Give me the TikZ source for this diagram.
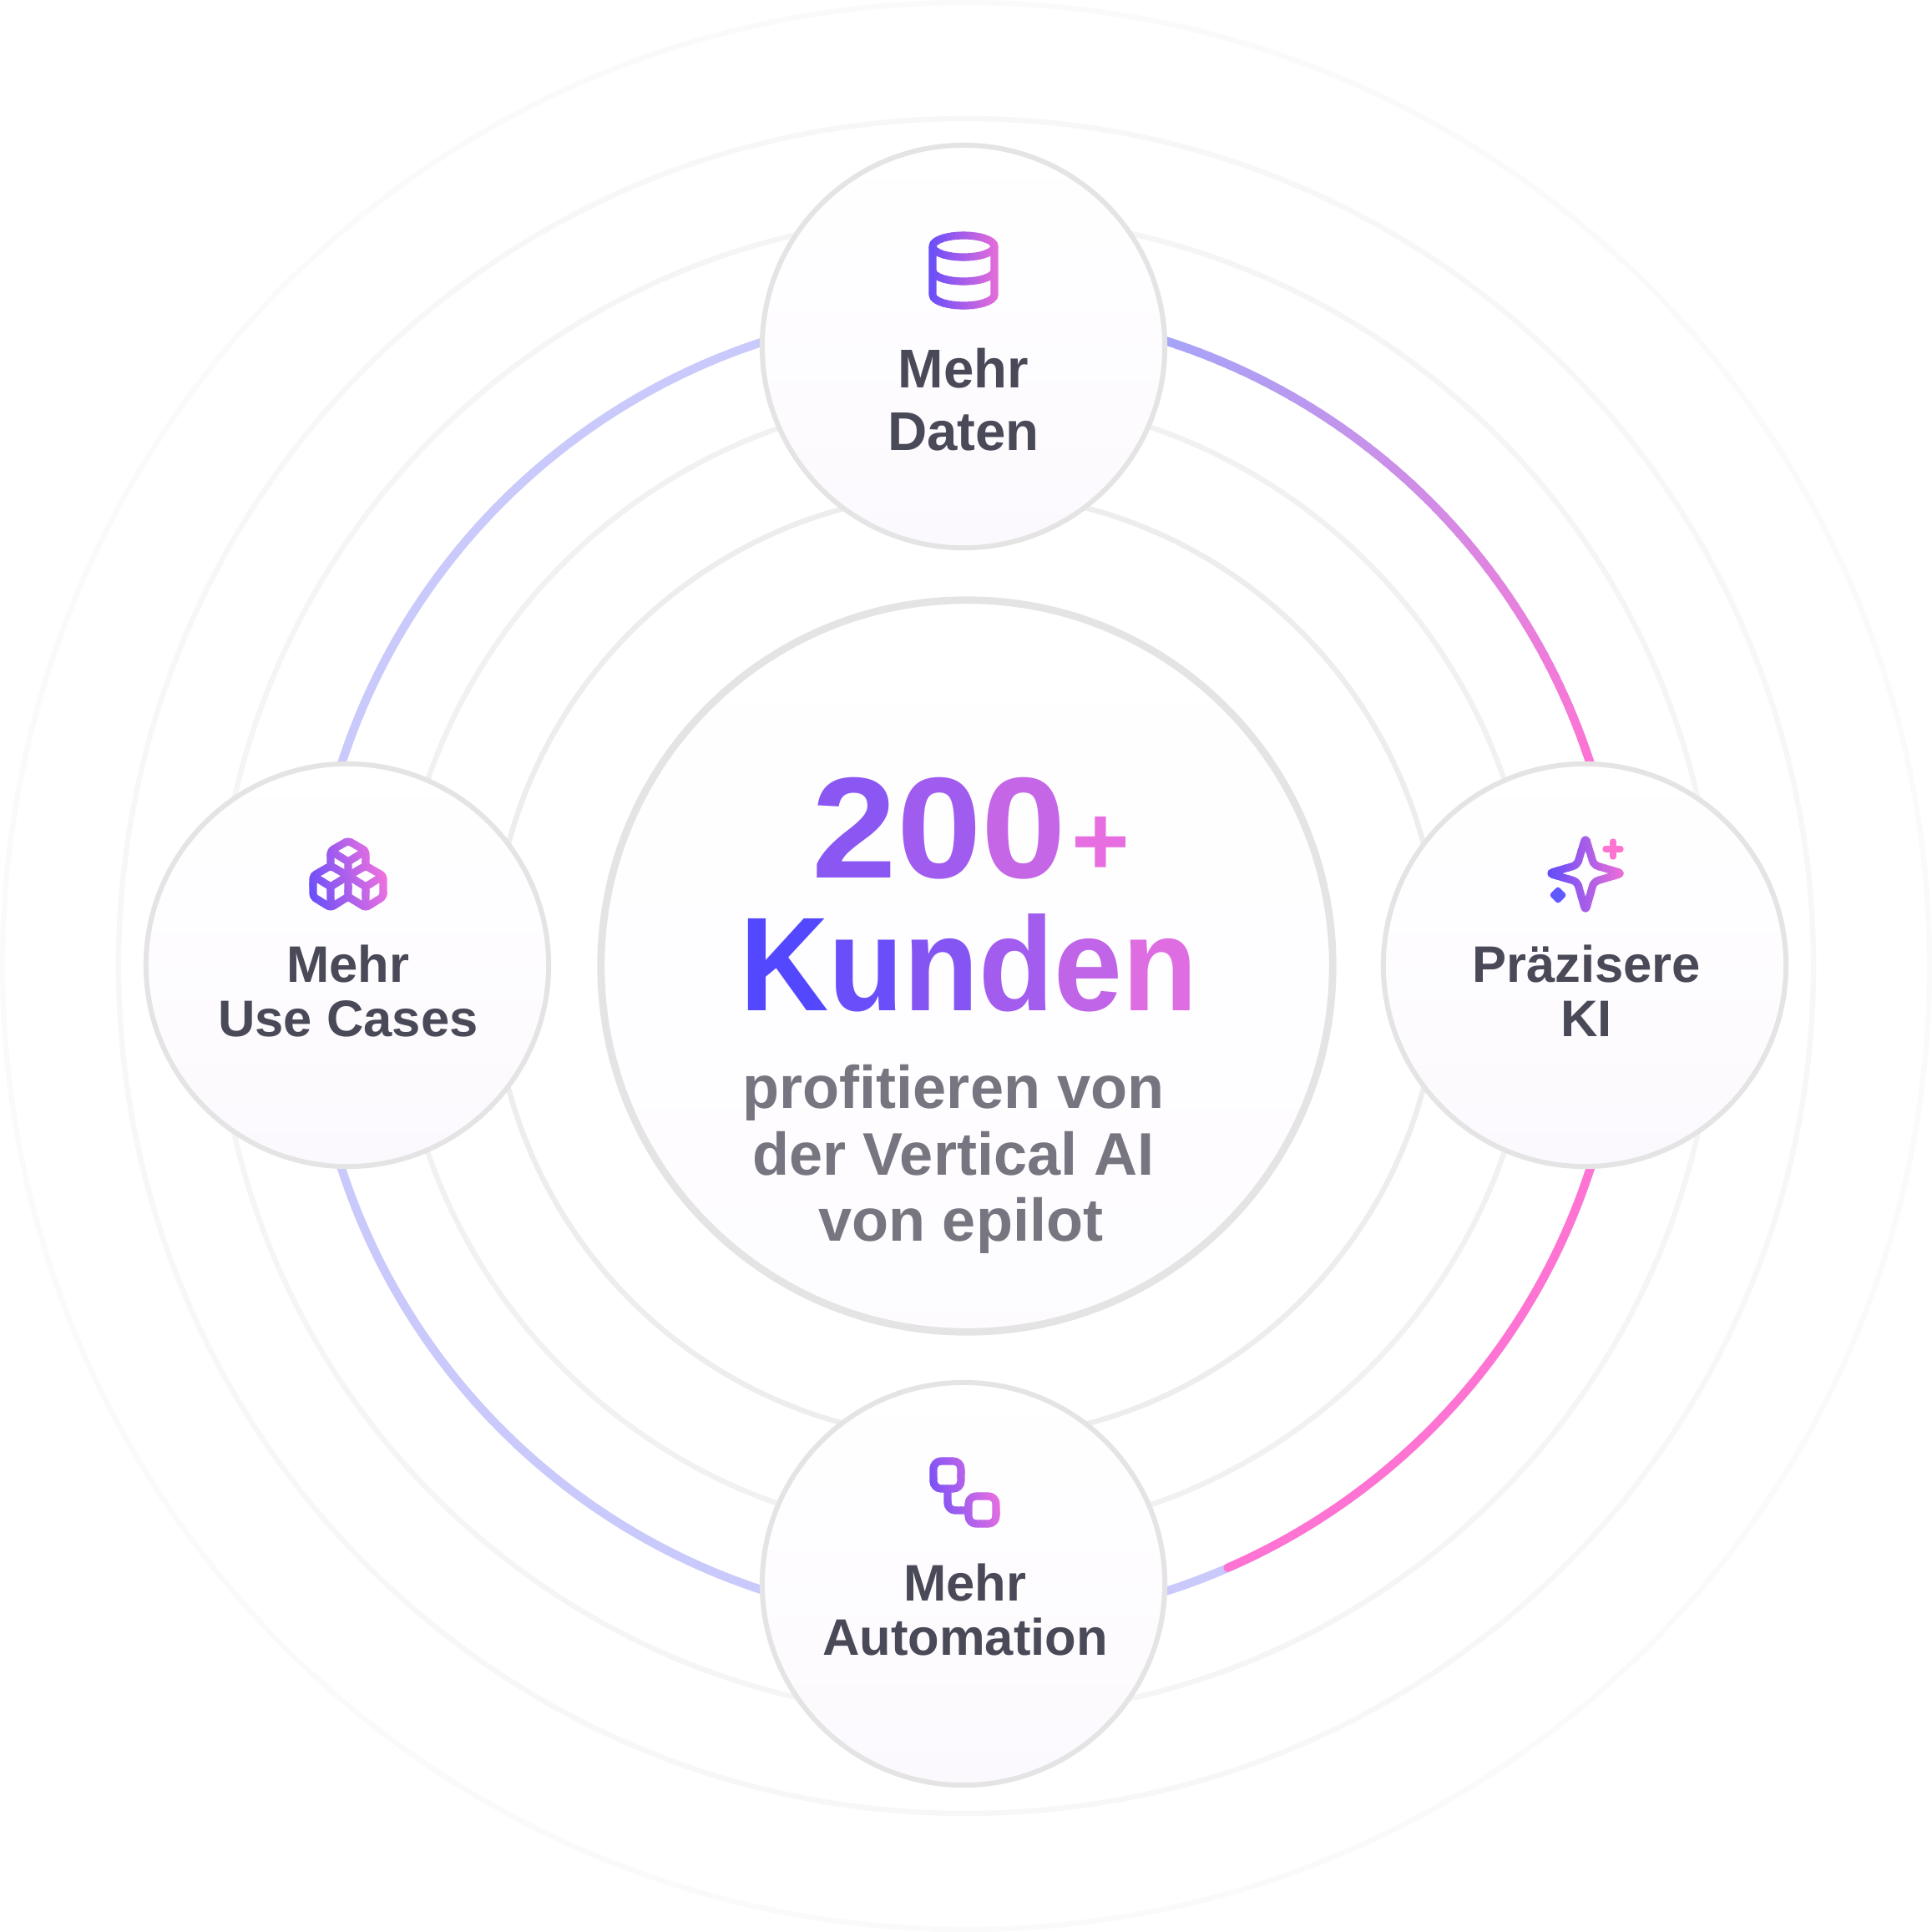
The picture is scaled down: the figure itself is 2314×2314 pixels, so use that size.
\documentclass[tikz,border=0pt]{standalone}
\usepackage{fontspec}
\setmainfont{Liberation Sans}
\newfontfamily\kundenfont[FakeStretch=0.92]{Liberation Sans}
\newfontfamily\digitfont[FakeStretch=1.06]{Liberation Sans}
\definecolor{brandblue}{HTML}{4E47FF}
\definecolor{brandpink}{HTML}{FF73D3}
\definecolor{softpink}{HTML}{EC70DF}
\definecolor{softviolet}{HTML}{C9C9FB}
\definecolor{startviolet}{HTML}{A6A4F8}
\definecolor{labelgrey}{HTML}{4A4958}
\definecolor{subgrey}{HTML}{77757F}
\definecolor{ringgrey}{HTML}{E4E4E4}
\definecolor{nodetint}{HTML}{FCF9FE}
\newcommand{\gradletter}[2]{\textcolor{brandblue!#1!softpink}{#2}}
\newcommand{\gradicon}[5]{
	\foreach \s in {0,...,23} {
		\pgfmathsetmacro{\mixval}{100*\s/23}
		\pgfmathsetmacro{\xa}{#1-60+120*\s/24}
		\pgfmathsetmacro{\xb}{#1-60+120*(\s+1.2)/24}
		\colorlet{iconcolor}{#4!\mixval!brandblue}
		\begin{scope}
			\clip (\xa,#2+60) -- (\xb,#2+60) -- (\xb+#3,#2-60) -- (\xa+#3,#2-60) -- cycle;
			#5
		\end{scope}
	}
}
\newcommand{\datenicon}{
	\draw[iconline] (1154,295) ellipse[x radius=37,y radius=13];
	\draw[iconline] (1117,295) -- (1117,353) arc[start angle=180,end angle=0,x radius=37,y radius=13] -- (1191,295);
	\draw[iconline] (1117,324) arc[start angle=180,end angle=0,x radius=37,y radius=13];
}
\newcommand{\casesicon}{
	\draw[iconline,rounded corners=1pt] (396,1037) -- (396,1019) -- (417,1007) -- (438,1019) -- (438,1037);
	\draw[iconline] (396,1019) -- (417,1032) -- (438,1019) (417,1032) -- (417,1074);
	\draw[iconline,rounded corners=1pt] (417,1049) -- (396,1037) -- (375,1049) -- (375,1074) -- (396,1087) -- (417,1074) -- (438,1087) -- (459,1074) -- (459,1049) -- (438,1037) -- (417,1049);
	\draw[iconline] (375,1049) -- (396,1062) -- (417,1049) -- (438,1062) -- (459,1049) (396,1062) -- (396,1087) (438,1062) -- (438,1087);
}
\newcommand{\kiicon}{
	\draw[iconline,rounded corners=1.5pt] (1899,1003) -- (1889,1036) -- (1855,1046) -- (1889,1056) -- (1899,1091) -- (1909,1056) -- (1943,1046) -- (1909,1036) -- cycle;
}
\newcommand{\automationicon}{
	\draw[iconline,rounded corners=2.6pt] (1118,1750) rectangle (1151,1783);
	\draw[iconline,rounded corners=2.6pt] (1160,1792) rectangle (1193,1825);
	\draw[iconline,rounded corners=2.6pt] (1135,1783) -- (1135,1809) -- (1160,1809);
}
\begin{document}
\begin{tikzpicture}[
		x=.01cm,y=-.01cm,
		ring/.style={line width=1.8pt},
		iconline/.style={draw=iconcolor,line width=2.6pt,line join=round},
		hubcircle/.style={circle,draw=ringgrey,line width=2.5pt,minimum size=8.76cm,inner sep=0pt,top color=white,bottom color=nodetint!60},
		stepcircle/.style={circle,draw=ringgrey,line width=1.7pt,minimum size=4.82cm,inner sep=0pt,top color=white,bottom color=nodetint},
		steplabel/.style={align=center,text=labelgrey,font=\bfseries\fontsize{17.5pt}{18.5pt}\selectfont},
		sublabel/.style={anchor=base,text=subgrey,font=\bfseries\fontsize{20.5pt}{22pt}\selectfont}
	]
	\useasboundingbox (0,0) rectangle (2314,2314);
	\fill[white] (0,0) rectangle (2314,2314);
	\coordinate (centre) at (1157,1157);
	\draw[ring,draw=black!1.8] (centre) circle[radius=1154];
	\draw[ring,draw=black!3] (centre) circle[radius=1015];
	\draw[ring,draw=black!4] (centre) circle[radius=899];
	\draw[ring,draw=black!5.5] (centre) circle[radius=682];
	\draw[ring,draw=black!7] (centre) circle[radius=567];
	\draw[line width=2.9pt,draw=softviolet] (centre) circle[radius=786];
	\begin{scope}[shift={(centre)}]
		\foreach \a in {0,...,54} {
			\pgfmathsetmacro{\mixval}{100*\a/54}
			\draw[line width=2.9pt,draw=brandpink!\mixval!startviolet] (-72.4+\a:786) arc[start angle=-72.4+\a,end angle=-71.1+\a,radius=786];
		}
		\draw[line width=2.9pt,draw=brandpink,line cap=round] (17.6:786) arc[start angle=17.6,end angle=66.5,radius=786];
	\end{scope}
	\node[hubcircle] (hub) at (1158,1157) {};
	\node[stepcircle] (daten) at (1154,415) {};
	\node[stepcircle] (ki) at (1898,1156) {};
	\node[stepcircle] (automation) at (1154,1897) {};
	\node[stepcircle] (cases) at (416,1156) {};
	\gradicon{1154}{324}{0}{brandpink}{\datenicon}
	\gradicon{417}{1047}{-30}{softpink}{\casesicon}
	\gradicon{1899}{1047}{0}{brandpink}{\kiicon}
	\gradicon{1156}{1788}{-30}{softpink}{\automationicon}
	\draw[brandpink,line width=2.1pt,line cap=round] (1923,1017) -- (1941,1017) (1932,1008) -- (1932,1026);
	\draw[fill=brandblue!90!white,draw=brandblue!90!white,line width=1.9pt,line join=round] (1866,1066) -- (1872,1072) -- (1866,1078) -- (1860,1072) -- cycle;
	\node[steplabel,font=\bfseries\fontsize{18.6pt}{21.3pt}\selectfont] (datenlabel) at (1154,479) {Mehr\\Daten};
	\node[steplabel] (kilabel) at (1900,1187) {Präzisere\\KI};
	\node[steplabel] (automationlabel) at (1156,1928) {Mehr\\Automation};
	\node[steplabel] (caseslabel) at (417,1187) {Mehr\\Use Cases};
	\node[anchor=base,font=\digitfont\bfseries\fontsize{49pt}{49pt}\selectfont] (twohundred) at (1125,1051) {\gradletter{62}{2}\gradletter{48}{0}\gradletter{25}{0}};
	\node[anchor=center,font=\bfseries\fontsize{34pt}{34pt}\selectfont] (plussign) at (1318,1013) {\gradletter{4}{+}};
	\node[anchor=base,font=\kundenfont\bfseries\fontsize{45.5pt}{45.5pt}\selectfont] (kunden) at (1160,1210) {\gradletter{97}{K}\gradletter{82}{u}\gradletter{65}{n}\gradletter{47}{d}\gradletter{28}{e}\gradletter{8}{n}};
	\node[sublabel] (subone) at (1142,1327) {profitieren von};
	\node[sublabel] (subtwo) at (1142,1407) {der Vertical AI};
	\node[sublabel] (subthree) at (1151,1486) {von epilot};
\end{tikzpicture}
\end{document}
